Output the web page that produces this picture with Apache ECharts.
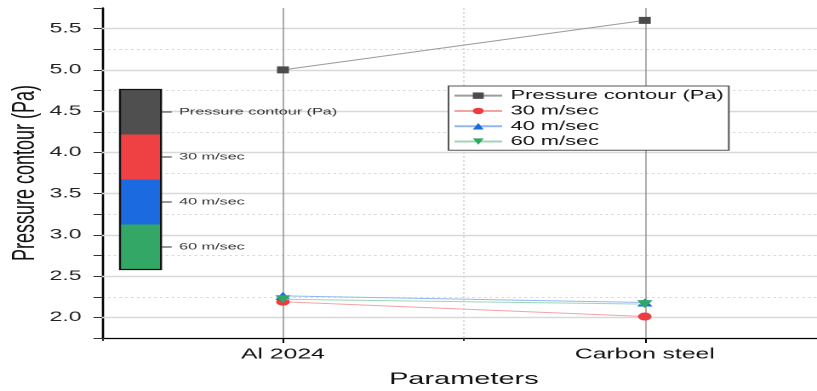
<!DOCTYPE html>
<html><head><meta charset="utf-8">
<script src="https://cdn.jsdelivr.net/npm/echarts@6/dist/echarts.min.js"></script>
<style>
html,body{margin:0;padding:0;background:#fff;overflow:hidden;}
#wrap{width:817px;height:391px;overflow:hidden;position:relative;background:#fff;}
#chart{width:480px;height:391px;transform:scaleX(1.702083);transform-origin:0 0;}
</style></head><body>
<div id="wrap"><div id="chart"></div></div>
<script>
// ---- data ----
const categories = ['Al 2024', 'Carbon steel'];
const seriesNames = ['Pressure contour (Pa)', '30 m/sec', '40 m/sec', '60 m/sec'];
const pressureContour = [5.0, 5.6];
const speed30 = [2.19, 2.01];
const speed40 = [2.26, 2.18];
const speed60 = [2.22, 2.16];
const yMajorTicks = [2.0, 2.5, 3.0, 3.5, 4.0, 4.5, 5.0, 5.5];
const colorbarLabels = ['Pressure contour (Pa)', '30 m/sec', '40 m/sec', '60 m/sec'];

// ---- styles ----
const FONT = 'Liberation Sans';
const markerColors = ['#4b4b4b', '#ef3b3f', '#1b6ae0', '#2fa866'];
const lineColors = ['#9c9c9c', '#f4a3a5', '#92b8ef', '#9fd6b6'];
const symbols = ['rect', 'circle', 'triangle', 'triangle'];
const symbolSizes = [[7, 7], [8, 8], [9, 8], [9, 8]];
const symbolRotates = [0, 0, 0, 180];
const barColors = ['#4f4f4f', '#ef4143', '#1b6ae0', '#33a866'];
const values = [pressureContour, speed30, speed40, speed60];

const chart = echarts.init(document.getElementById('chart'), null, {renderer: 'canvas', devicePixelRatio: 2});

const dataSeries = seriesNames.map((name, i) => ({
  name: name,
  type: 'line',
  xAxisIndex: 0,
  yAxisIndex: 0,
  data: values[i],
  symbol: symbols[i],
  symbolSize: symbolSizes[i],
  symbolRotate: symbolRotates[i],
  itemStyle: {color: markerColors[i]},
  lineStyle: {color: lineColors[i], width: 1},
  z: 5 + i
}));

const gridSeries = {
  name: 'gridlines',
  type: 'line',
  data: [],
  silent: true,
  z: 1,
  markLine: {
    silent: true,
    animation: false,
    z: 1,
    symbol: ['none', 'none'],
    label: {show: false},
    data: [
      ...yMajorTicks.map(v => ({yAxis: v, lineStyle: {color: '#d9d9d9', width: 1.4, type: 'solid'}})),
      ...categories.map((c, i) => ({xAxis: i, lineStyle: {color: '#8a8a8a', width: 0.7, type: 'solid'}}))
    ]
  }
};

// colour bar built from the label list
const segTop = 89.5, segH = 45, barX = 70.5, barW = 24.1;
const barElements = [];
colorbarLabels.forEach((lab, i) => {
  barElements.push({type: 'rect', z: 50, shape: {x: barX, y: segTop + i * segH, width: barW, height: segH}, style: {fill: barColors[i]}, silent: true});
});
barElements.push({type: 'rect', z: 51, shape: {x: barX, y: segTop, width: barW, height: segH * colorbarLabels.length}, style: {fill: 'none', stroke: '#111', lineWidth: 1.2}, silent: true});
colorbarLabels.forEach((lab, i) => {
  const yc = segTop + i * segH + segH / 2;
  barElements.push({type: 'line', z: 51, shape: {x1: barX + barW, y1: yc, x2: barX + barW + 6.3, y2: yc}, style: {stroke: '#333', lineWidth: 1}, silent: true});
  barElements.push({type: 'text', z: 51, x: barX + barW + 10.6, y: yc, style: {text: lab, fontSize: 9.5, fontFamily: FONT, fill: '#333', verticalAlign: 'middle', align: 'left'}, silent: true});
});

const option = {
  animation: false,
  backgroundColor: '#fff',
  textStyle: {fontFamily: FONT},
  grid: {left: 59.93, top: 8, width: 425.2, height: 330, containLabel: false, outerBoundsMode: 'none'},
  legend: {
    data: seriesNames,
    orient: 'vertical',
    z: 50,
    left: 263.5, top: 86,
    itemWidth: 28, itemHeight: 8, itemGap: 0,
    padding: [2, 3, 1, 2.5],
    borderColor: '#555', borderWidth: 1, borderRadius: 0,
    backgroundColor: '#fff',
    textStyle: {fontSize: 12.8, lineHeight: 15.3, color: '#111', fontFamily: FONT}
  },
  xAxis: [{
    type: 'category', data: categories, boundaryGap: true, position: 'bottom',
    name: 'Parameters', nameLocation: 'middle', nameGap: 33, nameMoveOverlap: false,
    nameTextStyle: {fontSize: 17, color: '#111', fontFamily: FONT},
    axisLine: {show: true, lineStyle: {color: '#000', width: 1.3}},
    axisTick: {show: true, alignWithLabel: false, length: 3, lineStyle: {color: '#333'}},
    axisLabel: {margin: 9, fontSize: 14.5, color: '#111', fontFamily: FONT},
    splitLine: {show: true, lineStyle: {color: '#d4d4d4', type: [2, 2], width: 0.8}}
  }, {
    type: 'category', data: categories, boundaryGap: true, position: 'bottom',
    axisLine: {show: false},
    axisLabel: {show: false},
    axisTick: {show: true, alignWithLabel: true, length: 5, lineStyle: {color: '#000', width: 1}},
    splitLine: {show: false}
  }],
  yAxis: [{
    type: 'value', min: 1.75, max: 5.75, interval: 0.25,
    name: 'Pressure contour (Pa)', nameLocation: 'middle', nameGap: 36, nameMoveOverlap: false,
    nameTextStyle: {fontSize: 18, color: '#111', fontFamily: FONT},
    axisLine: {show: true, lineStyle: {color: '#000', width: 1.3}},
    axisTick: {show: true, length: 5, lineStyle: {color: '#333'}},
    axisLabel: {
      margin: 12, fontSize: 13.5, color: '#222', fontFamily: FONT,
      formatter: v => yMajorTicks.some(t => Math.abs(t - v) < 1e-6) ? v.toFixed(1) : ''
    },
    splitLine: {show: true, showMaxLine: false, lineStyle: {color: '#dadada', type: [1.6, 1.8], width: 1}}
  }],
  graphic: [{type: 'group', children: barElements}],
  series: [gridSeries, ...dataSeries]
};
chart.setOption(option);
</script>
</body></html>
